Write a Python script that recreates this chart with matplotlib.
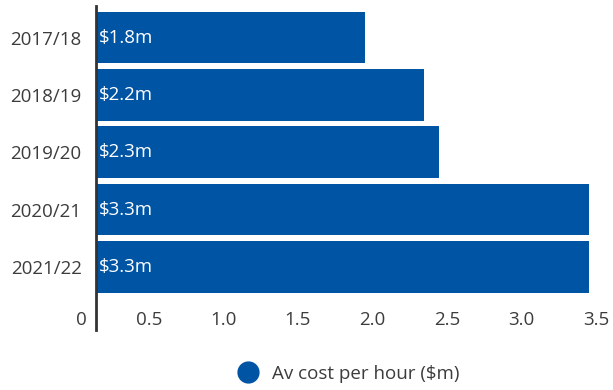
import matplotlib
matplotlib.use("Agg")
import matplotlib.pyplot as plt
import matplotlib.transforms as mtransforms
from matplotlib.lines import Line2D

plt.rcParams['font.family'] = ['Open Sans', 'DejaVu Sans']

# Data
years = ["2017/18", "2018/19", "2019/20", "2020/21", "2021/22"]
cost = [1.8, 2.2, 2.3, 3.3, 3.3]
bar_labels = ["$1.8m", "$2.2m", "$2.3m", "$3.3m", "$3.3m"]
scale_ticks = [0, 0.5, 1.0, 1.5, 2.0, 2.5, 3.0, 3.5]
scale_labels = ["0", "0.5", "1.0", "1.5", "2.0", "2.5", "3.0", "3.5"]
series_name = "Av cost per hour ($m)"

BLUE = "#0054A4"
TEXT = "#3c3c3c"
FS = 13.5

W, H = 613, 390
PX_PER_UNIT = 149.5
X0_PX = 95.5
XMIN, XMAX = -0.17, 3.3946
left_px = X0_PX + XMIN * PX_PER_UNIT
right_px = X0_PX + XMAX * PX_PER_UNIT

fig = plt.figure(figsize=(W / 100, H / 100), dpi=100)
ax = fig.add_axes([left_px / W, 1 - 330 / H, (right_px - left_px) / W, (330 - 6) / H])

ypos = list(range(len(years)))
ax.barh(ypos, cost, height=0.9, color=BLUE, zorder=2)
for y, lab in zip(ypos, bar_labels):
    ax.text(0.02, y, lab, color="white", fontsize=FS, va="center", ha="left", zorder=3)

ax.set_xlim(XMIN, XMAX)
ax.set_ylim(5.1, -0.55)

for s in ("top", "right", "bottom"):
    ax.spines[s].set_visible(False)
ax.spines["left"].set_position(("data", 0))
ax.spines["left"].set_color("#333333")
ax.spines["left"].set_linewidth(2)
ax.spines["left"].set_zorder(4)
ax.xaxis.set_visible(False)

ax.set_yticks(ypos)
ax.set_yticklabels(years)
ax.tick_params(axis="y", length=0, pad=10, labelsize=FS, labelcolor=TEXT)

# Value scale along the bottom
a, b = 0.142, 1.00336
sec = ax.secondary_xaxis(0.06, functions=(lambda v: a + b * v, lambda t: (t - a) / b))
sec.set_xticks(scale_ticks)
sec.set_xticklabels(scale_labels)
sec.tick_params(length=0, pad=0, labelsize=FS, labelcolor=TEXT)
sec.spines["bottom"].set_visible(False)
# nudge the zero label clear of the axis start
zero = sec.get_xticklabels()[0]
zero.set_transform(zero.get_transform() + mtransforms.ScaledTranslation(7 / 100, 0, fig.dpi_scale_trans))

handle = Line2D([], [], marker="o", linestyle="none", markersize=15,
                markerfacecolor=BLUE, markeredgecolor=BLUE)
fig.legend([handle], [series_name], loc="center", bbox_to_anchor=(349 / W, 1 - 374 / H),
           frameon=False, fontsize=FS, labelcolor=TEXT, handletextpad=0.82,
           handlelength=1.0)

fig.savefig("out.png", dpi=100)
